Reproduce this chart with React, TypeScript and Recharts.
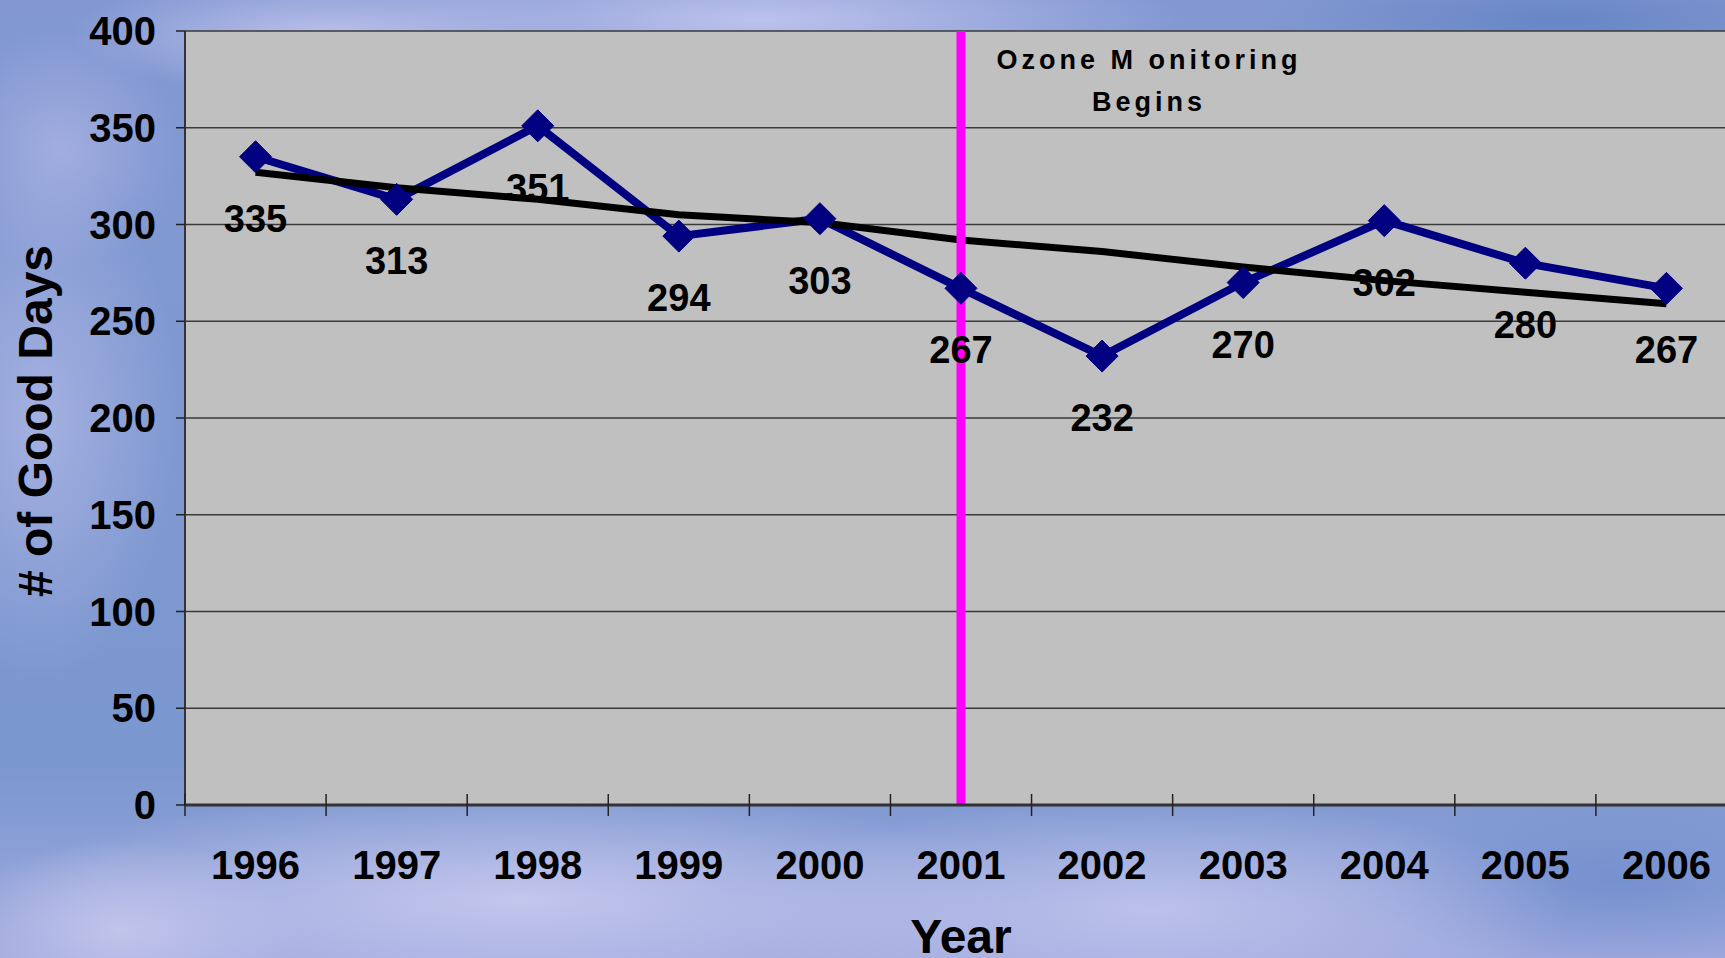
import React from 'react';
import {
  LineChart,
  Line,
  XAxis,
  YAxis,
  CartesianGrid,
  ReferenceLine,
  LabelList,
} from 'recharts';

// ---- data ----
const years = ['1996', '1997', '1998', '1999', '2000', '2001', '2002', '2003', '2004', '2005', '2006'];
const goodDays = [335, 313, 351, 294, 303, 267, 232, 270, 302, 280, 267];
const trendDays = [327, 319, 313, 305, 301, 292, 286, 278, 271, 265, 259];
const yTicks = [0, 50, 100, 150, 200, 250, 300, 350, 400];
const monitoringYear = '2001';
const annotationLines = ['Ozone M onitoring', 'Begins'];

const data = years.map((y, i) => ({ year: y, days: goodDays[i], trend: trendDays[i] }));

// ---- layout ----
const CHART_W = 1737;
const CHART_H = 958;
const Y_AXIS_W = 185;
const TOP = 31;
const X_AXIS_H = 153;
const BAND = (CHART_W - Y_AXIS_W) / years.length;
const FONT = '"Liberation Sans", Arial, Helvetica, sans-serif';

const YearTick = (props: any) => {
  const { x, y, payload } = props;
  const half = payload && typeof payload.offset === 'number' && payload.offset > 0 ? payload.offset : BAND / 2;
  return (
    <g>
      <line x1={x - half} x2={x - half} y1={y - 11} y2={y + 11} stroke="#222" strokeWidth={1.5} />
      <text x={x} y={y + 74} textAnchor="middle" fontSize={40} fontWeight="bold" fill="#000" fontFamily={FONT}>
        {payload.value}
      </text>
    </g>
  );
};

const Diamond = (props: any) => {
  const { cx, cy } = props;
  if (cx == null || cy == null) return null;
  return (
    <polygon
      points={`${cx},${cy - 16} ${cx + 16},${cy} ${cx},${cy + 16} ${cx - 16},${cy}`}
      fill="#000080"
      stroke="#000080"
      strokeWidth={1}
    />
  );
};

const ValueLabel = (props: any) => {
  const x = props.x ?? props.viewBox?.x;
  const y = props.y ?? props.viewBox?.y;
  if (x == null || y == null) return null;
  return (
    <text x={x} y={y + 75} textAnchor="middle" fontSize={38} fontWeight="bold" fill="#000" fontFamily={FONT}>
      {props.value}
    </text>
  );
};

const Annotation = (props: any) => {
  const vb = props.viewBox || {};
  const cx = (vb.x ?? 0) + 188;
  return (
    <g>
      <text x={cx} y={69} textAnchor="middle" fontSize={27} fontWeight="bold" fill="#000" fontFamily={FONT} letterSpacing={4}>
        {annotationLines[0]}
      </text>
      <text x={cx} y={111} textAnchor="middle" fontSize={27} fontWeight="bold" fill="#000" fontFamily={FONT} letterSpacing={4}>
        {annotationLines[1]}
      </text>
    </g>
  );
};

const YTitle = () => (
  <text
    x={52}
    y={421}
    transform="rotate(-90 52 421)"
    textAnchor="middle"
    fontSize={48}
    fontWeight="bold"
    fill="#000"
    fontFamily={FONT}
  >
    # of Good Days
  </text>
);

const XTitle = (props: any) => {
  const vb = props.viewBox || {};
  const cx = (vb.x ?? Y_AXIS_W) + (vb.width ?? CHART_W - Y_AXIS_W) / 2;
  return (
    <text x={cx} y={953} textAnchor="middle" fontSize={48} fontWeight="bold" fill="#000" fontFamily={FONT}>
      Year
    </text>
  );
};

const skyBackground = [
  'radial-gradient(ellipse 260px 60px at 330px 35px, rgba(190,194,236,0.95), rgba(190,194,236,0) 100%)',
  'radial-gradient(ellipse 420px 70px at 760px 20px, rgba(192,196,238,0.95), rgba(192,196,238,0) 100%)',
  'radial-gradient(ellipse 300px 60px at 1560px 20px, rgba(100,132,196,0.9), rgba(100,132,196,0) 100%)',
  'radial-gradient(ellipse 140px 260px at 40px 420px, rgba(180,186,232,0.7), rgba(180,186,232,0) 100%)',
  'radial-gradient(ellipse 120px 120px at 60px 150px, rgba(175,182,230,0.7), rgba(175,182,230,0) 100%)',
  'radial-gradient(ellipse 520px 110px at 520px 900px, rgba(198,200,238,0.95), rgba(198,200,238,0) 100%)',
  'radial-gradient(ellipse 420px 110px at 1150px 910px, rgba(192,196,236,0.9), rgba(192,196,236,0) 100%)',
  'radial-gradient(ellipse 260px 90px at 1620px 880px, rgba(110,140,204,0.8), rgba(110,140,204,0) 100%)',
  'radial-gradient(ellipse 180px 90px at 120px 930px, rgba(196,198,236,0.9), rgba(196,198,236,0) 100%)',
  'linear-gradient(180deg, #8398d2 0%, #7f98d0 45%, #7b97cf 80%, #9fa9de 100%)',
].join(', ');

export default function App() {
  return (
    <div
      style={{
        position: 'absolute',
        left: 0,
        top: 0,
        width: 1725,
        height: 958,
        overflow: 'hidden',
        background: skyBackground,
      }}
    >
      <LineChart
        width={CHART_W}
        height={CHART_H}
        data={data}
        margin={{ top: TOP, right: 0, bottom: 0, left: 0 }}
      >
        <CartesianGrid vertical={false} stroke="#3a3a3a" strokeWidth={1.5} fill="#c0c0c0" fillOpacity={1} />
        <XAxis
          dataKey="year"
          scale="band"
          height={X_AXIS_H}
          tickLine={false}
          tickSize={0}
          tickMargin={0}
          interval={0}
          axisLine={{ stroke: '#333', strokeWidth: 3 }}
          tick={<YearTick />}
          label={<XTitle />}
        />
        <YAxis
          width={Y_AXIS_W}
          domain={[0, 400]}
          ticks={yTicks}
          interval={0}
          tickSize={9}
          tickMargin={20}
          tickLine={{ stroke: '#222', strokeWidth: 1.5 }}
          axisLine={{ stroke: '#333', strokeWidth: 2 }}
          tick={{ fontSize: 40, fontWeight: 'bold', fill: '#000', fontFamily: FONT }}
          label={<YTitle />}
        />
        <Line
          type="linear"
          dataKey="days"
          stroke="#000080"
          strokeWidth={8}
          dot={<Diamond />}
          activeDot={false}
          isAnimationActive={false}
        >
          <LabelList dataKey="days" content={<ValueLabel />} />
        </Line>
        <Line
          type="linear"
          dataKey="trend"
          stroke="#000"
          strokeWidth={7}
          dot={false}
          activeDot={false}
          isAnimationActive={false}
        />
        <ReferenceLine x={monitoringYear} stroke="#ff00ff" strokeWidth={9} label={<Annotation />} />
      </LineChart>
    </div>
  );
}
